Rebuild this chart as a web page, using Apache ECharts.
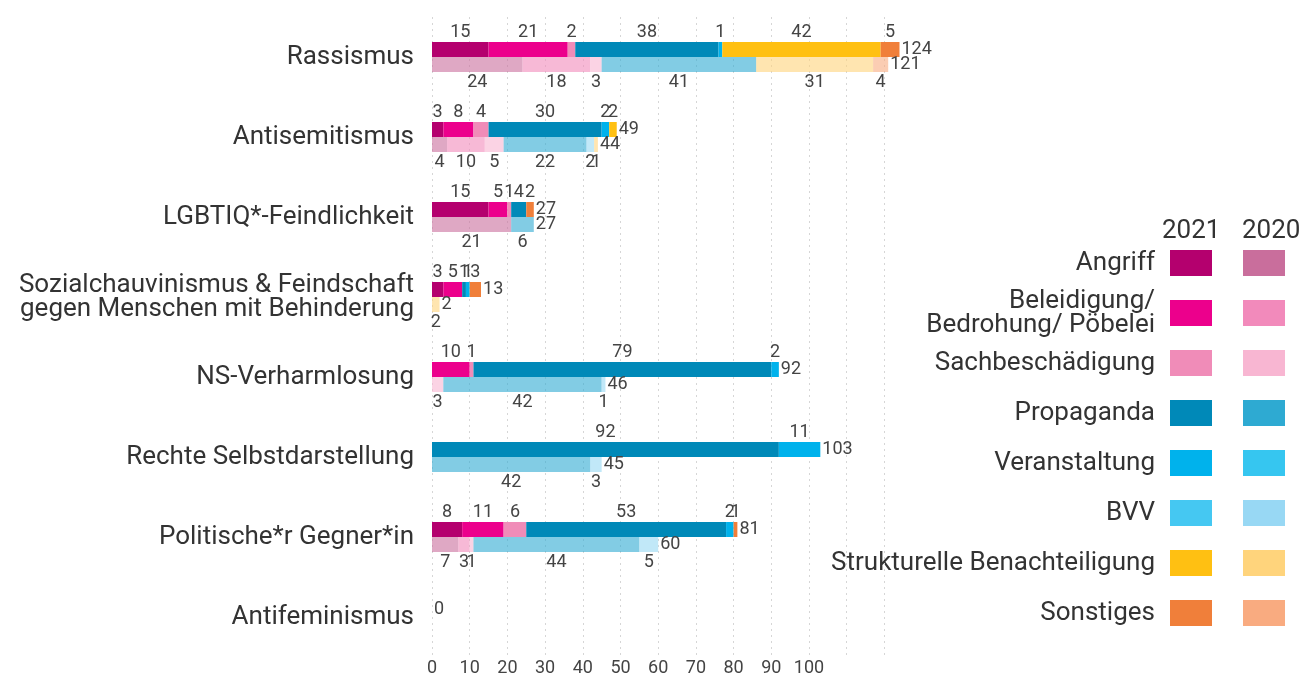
<!DOCTYPE html>
<html>
<head>
<meta charset="UTF-8">
<title>Vorfälle nach Motiv</title>
<style>
  html, body { margin:0; padding:0; background:#fff; }
  #main { width:1308px; height:681px; }
</style>
<script src="https://cdn.jsdelivr.net/npm/echarts@6/dist/echarts.min.js"></script>
</head>
<body>
<div id="main"></div>
<script>
// Kategorien (y-Achse), von oben nach unten
var kategorien = ['Rassismus', 'Antisemitismus', 'LGBTIQ*-Feindlichkeit',
  'Sozialchauvinismus & Feindschaft\ngegen Menschen mit Behinderung',
  'NS-Verharmlosung', 'Rechte Selbstdarstellung', 'Politische*r Gegner*in', 'Antifeminismus'];
var arten = ['Angriff', 'Beleidigung/\nBedrohung/ Pöbelei', 'Sachbeschädigung', 'Propaganda',
  'Veranstaltung', 'BVV', 'Strukturelle Benachteiligung', 'Sonstiges'];
var farben2021 = ['#b4006e', '#ec008c', '#f08cb8', '#0089b8', '#00b2ec', '#45c8f2', '#ffc012', '#f07f3a'];
var farben2020 = ['#c96e9c', '#f28abb', '#f8b6d2', '#2eaad2', '#36c6f0', '#98d8f4', '#ffd47c', '#f9ab80'];
var xTicks = [0, 10, 20, 30, 40, 50, 60, 70, 80, 90, 100];

// 2021
var angriff2021       = [15, 3, 15, 3, 0, 0, 8, 0];
var beleidigung2021   = [21, 8, 5, 5, 10, 0, 11, 0];
var sachbesch2021     = [2, 4, 1, 0, 1, 0, 6, 0];
var propaganda2021    = [38, 30, 4, 1, 79, 92, 53, 0];
var veranstaltung2021 = [1, 2, 0, 1, 2, 11, 2, 0];
var bvv2021           = [0, 0, 0, 0, 0, 0, 0, 0];
var struktur2021      = [42, 2, 0, 0, 0, 0, 0, 0];
var sonstiges2021     = [5, 0, 2, 3, 0, 0, 1, 0];

// 2020 (Antifeminismus ohne Wert)
var angriff2020       = [24, 4, 21, 0, 0, 0, 7, null];
var beleidigung2020   = [18, 10, 0, 0, 0, 0, 3, null];
var sachbesch2020     = [3, 5, 0, 0, 3, 0, 1, null];
var propaganda2020    = [41, 22, 6, 0, 42, 42, 44, null];
var veranstaltung2020 = [0, 0, 0, 0, 0, 0, 0, null];
var bvv2020           = [0, 2, 0, 0, 1, 3, 5, null];
var struktur2020      = [31, 1, 0, 2, 0, 0, 0, null];
var sonstiges2020     = [4, 0, 0, 0, 0, 0, 0, null];

var reihen2021 = [angriff2021, beleidigung2021, sachbesch2021, propaganda2021,
  veranstaltung2021, bvv2021, struktur2021, sonstiges2021];
var reihen2020 = [angriff2020, beleidigung2020, sachbesch2020, propaganda2020,
  veranstaltung2020, bvv2020, struktur2020, sonstiges2020];

function summe(reihen, i) {
  var s = null;
  reihen.forEach(function (r) { if (r[i] != null) s = (s || 0) + r[i]; });
  return s;
}
var summen2021 = kategorien.map(function (k, i) { return summe(reihen2021, i); });
var summen2020 = kategorien.map(function (k, i) { return summe(reihen2020, i); });

// 2020-Balken blasser als die Legende
function blass(hex, a) {
  var r = parseInt(hex.substr(1, 2), 16), g = parseInt(hex.substr(3, 2), 16), b = parseInt(hex.substr(5, 2), 16);
  return 'rgba(' + r + ',' + g + ',' + b + ',' + a + ')';
}

var zahlStil = { fontFamily: 'Roboto', fontSize: 18, color: '#444' };

var series = [];
reihen2021.forEach(function (r, j) {
  series.push({
    name: arten[j] + ' 2021', type: 'bar', stack: 'j2021', data: r,
    barWidth: 15, barGap: '0%',
    itemStyle: { color: farben2021[j] },
    label: Object.assign({ show: true, position: 'top', distance: 1,
      formatter: function (p) { return p.value ? p.value : ''; } }, zahlStil)
  });
});
series.push({
  name: 'Summe 2021', type: 'bar', stack: 'j2021',
  data: summen2021.map(function (s) { return s == null ? null : 0; }),
  itemStyle: { color: 'transparent' },
  label: Object.assign({ show: true, position: 'right', distance: 2,
    formatter: function (p) { return summen2021[p.dataIndex]; } }, zahlStil)
});
reihen2020.forEach(function (r, j) {
  series.push({
    name: arten[j] + ' 2020', type: 'bar', stack: 'j2020', data: r,
    barWidth: 15, barGap: '0%',
    itemStyle: { color: blass(farben2020[j], 0.6) },
    label: Object.assign({ show: true, position: 'bottom', distance: 1,
      formatter: function (p) { return p.value ? p.value : ''; } }, zahlStil)
  });
});
series.push({
  name: 'Summe 2020', type: 'bar', stack: 'j2020',
  data: summen2020.map(function (s) { return s == null ? null : 0; }),
  itemStyle: { color: 'transparent' },
  label: Object.assign({ show: true, position: 'right', distance: 2,
    formatter: function (p) { return summen2020[p.dataIndex] == null ? '' : summen2020[p.dataIndex]; } }, zahlStil)
});

// Legende rechts: zwei Spalten (2021 / 2020)
var legende = [
  { type: 'text', left: 1162, top: 218, style: { text: '2021', font: '26px Roboto', fill: '#333' } },
  { type: 'text', left: 1242, top: 218, style: { text: '2020', font: '26px Roboto', fill: '#333' } }
];
arten.forEach(function (a, i) {
  var y = 263 + 50 * i;
  legende.push({
    type: 'text', x: 1155, y: y,
    style: { text: a, font: '26px Roboto', fill: '#333', align: 'right', verticalAlign: 'middle', lineHeight: 24 }
  });
  legende.push({ type: 'rect', shape: { x: 1170, y: y - 13, width: 42, height: 26 }, style: { fill: farben2021[i] } });
  legende.push({ type: 'rect', shape: { x: 1243, y: y - 13, width: 42, height: 26 }, style: { fill: farben2020[i] } });
});

var chart = echarts.init(document.getElementById('main'));
chart.setOption({
  animation: false,
  grid: { left: 432, top: 17, width: 467.5, height: 640 },
  xAxis: {
    type: 'value', min: 0, max: 124, interval: 10,
    axisLine: { show: false }, axisTick: { show: false },
    axisLabel: {
      fontFamily: 'Roboto', fontSize: 18, color: '#444', margin: 2, showMaxLabel: false,
      formatter: function (v) { return xTicks.indexOf(v) >= 0 ? v : ''; }
    },
    splitLine: { show: true, showMaxLine: false, lineStyle: { color: '#d6d6d6', type: [2, 4], width: 1 } }
  },
  yAxis: {
    type: 'category', data: kategorien, inverse: true,
    axisLine: { show: false }, axisTick: { show: false },
    axisLabel: { fontFamily: 'Roboto', fontSize: 26, lineHeight: 24, color: '#333', margin: 18 }
  },
  graphic: legende,
  series: series
});
</script>
</body>
</html>
